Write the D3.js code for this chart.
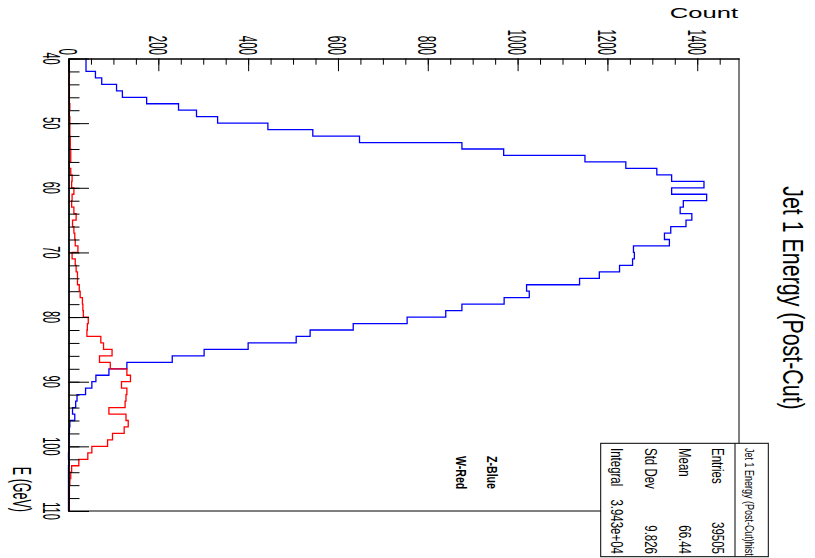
<!DOCTYPE html>
<html>
<head>
<meta charset="utf-8">
<script src="https://cdn.jsdelivr.net/npm/d3@7"></script>
<style>
  html, body { margin: 0; padding: 0; background: #fff; }
  svg { display: block; }
  text { font-family: "Liberation Sans", Arial, Helvetica, sans-serif; fill: #000; }
</style>
</head>
<body>
<svg id="chart" width="815" height="558"></svg>
<script>
// ---- data ----
const binLow = [40,41,42,43,44,45,46,47,48,49,50,51,52,53,54,55,56,57,58,59,
                60,61,62,63,64,65,66,67,68,69,70,71,72,73,74,75,76,77,78,79,
                80,81,82,83,84,85,86,87,88,89,90,91,92,93,94,95,96,97,98,99,
                100,101,102,103,104,105,106,107,108,109];
const zBlue = [39,39,60,74,107,120,174,245,285,332,
               444,544,648,876,969,1150,1241,1310,1343,1415,
               1343,1421,1369,1362,1388,1375,1341,1327,1338,1258,
               1260,1256,1227,1182,1138,1020,1026,970,876,840,
               754,634,538,507,400,302,231,130,90,61,
               52,38,19,16,9,14,3,2,1,1,
               1,0,1,0,0,0,0,0,0,0];
const wRed = [1,1,2,1,2,2,2,3,2,3,
              3,3,4,4,5,5,2,5,8,7,
              12,8,7,12,17,9,12,14,15,21,
              8,15,17,20,20,24,26,31,32,33,
              44,42,41,72,78,97,69,93,130,138,
              118,130,128,126,90,128,133,124,98,87,
              52,43,23,7,5,3,2,2,1,1];
const binWidth = 1;
const countMajorTicks = [0,200,400,600,800,1000,1200,1400];
const countMinorTicks = [0,50,100,150,200,250,300,350,400,450,500,550,600,650,700,750,800,850,900,950,1000,1050,1100,1150,1200,1250,1300,1350,1400,1450];
const energyMajorTicks = [40,50,60,70,80,90,100,110];
const energyMinorTicks = [40,42,44,46,48,50,52,54,56,58,60,62,64,66,68,70,72,74,76,78,80,82,84,86,88,90,92,94,96,98,100,102,104,106,108,110];
const titleText = "Jet 1 Energy (Post-Cut)";
const statsHeader = "Jet 1 Energy (Post-Cut)hist";
const statsLabels = ["Entries","Mean","Std Dev","Integral"];
const statsValues = ["39505","66.44","9.826","3.943e+04"];
const legendLabels = ["Z-Blue","W-Red"];

// ---- layout (rotated ROOT canvas) ----
const svg = d3.select("#chart");
const E = d3.scaleLinear().domain([40,110]).range([58.5,511]);   // energy -> screen y
const C = d3.scaleLinear().domain([0,1493]).range([68.5,739]);   // count  -> screen x

function vtext(parent, x, y, str, size, k, anchor, weight) {
  return parent.append("text")
    .attr("transform", `translate(${x},${y}) rotate(90) scale(1,${k})`)
    .attr("font-size", size)
    .attr("text-anchor", anchor)
    .attr("font-weight", weight || "normal")
    .text(str);
}

// histograms
function stepPoints(vals) {
  return vals.flatMap((v,i) => [[v, binLow[i]], [v, binLow[i] + binWidth]]);
}
const line = d3.line().x(d => C(d[0])).y(d => E(d[1]));
svg.append("path").attr("d", line(stepPoints(zBlue)))
  .attr("fill","none").attr("stroke","#0000ff").attr("stroke-width",1.3);
svg.append("path").attr("d", line(stepPoints(wRed)))
  .attr("fill","none").attr("stroke","#ff0000").attr("stroke-width",1.3);

// frame
svg.append("line").attr("x1",C(0)).attr("x2",C(1493)).attr("y1",E(110)).attr("y2",E(110)).attr("stroke","#000").attr("stroke-width",1);
svg.append("line").attr("x1",C(1493)).attr("x2",C(1493)).attr("y1",E(40)).attr("y2",E(110)).attr("stroke","#000").attr("stroke-width",1);

// count axis (top), ticks pointing inward
svg.append("g").attr("transform",`translate(0,${E(40)})`)
  .call(d3.axisTop(C).tickValues(countMinorTicks).tickSizeInner(-6.2).tickSizeOuter(0).tickFormat(""));
svg.append("g").attr("transform",`translate(0,${E(40)})`)
  .call(d3.axisTop(C).tickValues(countMajorTicks).tickSizeInner(-12.7).tickSizeOuter(0).tickFormat(""));
// energy axis (left)
svg.append("g").attr("transform",`translate(${C(0)},0)`)
  .call(d3.axisLeft(E).tickValues(energyMinorTicks).tickSizeInner(-11).tickSizeOuter(0).tickFormat(""));
const ge2 = svg.append("g").attr("transform",`translate(${C(0)},0)`)
  .call(d3.axisLeft(E).tickValues(energyMajorTicks).tickSizeInner(-20.5).tickSizeOuter(0).tickFormat(""));
svg.selectAll(".domain").attr("stroke","#000").attr("stroke-width",1);
svg.selectAll(".tick line").attr("stroke","#000").attr("stroke-width",1);
ge2.select(".domain").attr("stroke-width",1.6);

// tick labels
countMajorTicks.forEach(t => vtext(svg, C(t) - 9.5, 55, String(t), 11.5, 2.3, "end"));
energyMajorTicks.forEach(t => vtext(svg, 43, E(t), String(t), 11, 2.2, "middle"));

// axis titles
vtext(svg, 13, 512, "E (GeV)", 12.5, 2.1, "end");
svg.append("text").attr("transform","translate(738,18) scale(1.66,1)")
  .attr("font-size",15.4).attr("text-anchor","end").text("Count");

// title
vtext(svg, 783, 298, titleText, 21.4, 1.35, "middle");

// legend
vtext(svg, 487, 456, legendLabels[0], 10.6, 1.35, "start", "bold");
vtext(svg, 456, 456, legendLabels[1], 10.6, 1.35, "start", "bold");

// stats box
const box = {x: 600.7, y: 443.3, w: 167.6, h: 113.4};
svg.append("defs").append("clipPath").attr("id","statclip")
  .append("rect").attr("x",box.x).attr("y",box.y).attr("width",box.w).attr("height",box.h);
svg.append("rect").attr("x",box.x).attr("y",box.y).attr("width",box.w).attr("height",box.h)
  .attr("fill","#fff").attr("stroke","#000").attr("stroke-width",1);
svg.append("line").attr("x1",735).attr("x2",735).attr("y1",box.y).attr("y2",box.y+box.h).attr("stroke","#000");
const clipG = svg.append("g").attr("clip-path","url(#statclip)");
vtext(clipG, 745, 448, statsHeader, 9, 1.45, "start");
const rowBase = [712, 679, 645, 611];
statsLabels.forEach((s,i) => vtext(svg, rowBase[i], 448, s, 11.5, 1.5, "start"));
statsValues.forEach((s,i) => vtext(svg, rowBase[i], 554, s, 11.5, 1.5, "end"));
</script>
</body>
</html>
